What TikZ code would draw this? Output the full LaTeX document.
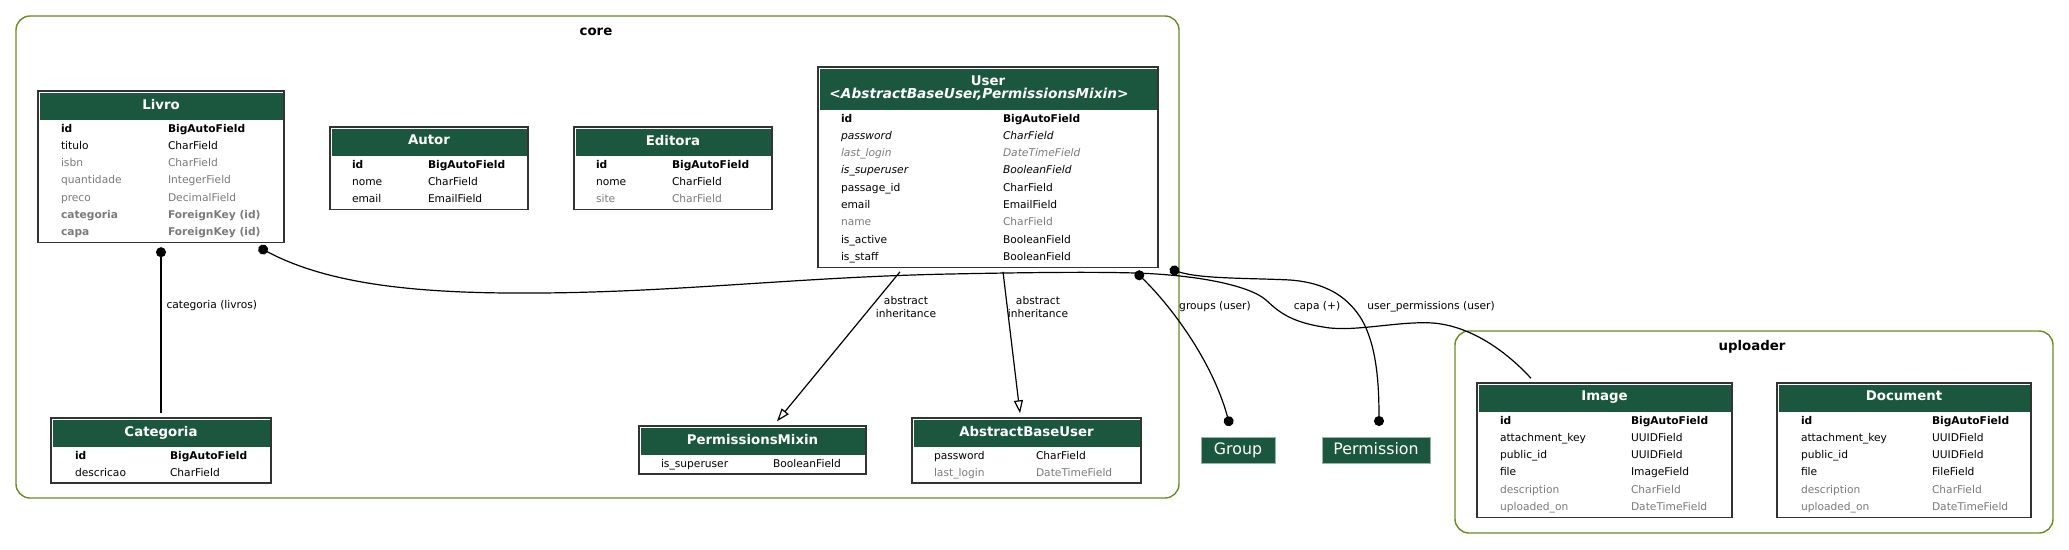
\documentclass[tikz,border=0pt]{standalone}
\usepackage{fontspec}
\setmainfont{DejaVu Sans}
\usetikzlibrary{arrows.meta}
\usetikzlibrary{positioning}
\usetikzlibrary{fit}

\definecolor{hdrgreen}{HTML}{1B563F}
\definecolor{clusterline}{HTML}{698B22}
\definecolor{fieldgray}{HTML}{7B7B7B}

\setlength{\tabcolsep}{0pt}
\newcommand{\fgray}[1]{\textcolor{fieldgray}{#1}}

\tikzset{
  hdr/.style={fill=hdrgreen, text=white, inner sep=0pt, minimum height=27pt,
    text depth=4pt, font=\bfseries\fontsize{13.33}{14}\selectfont},
  fields/.style={anchor=north west, inner sep=0pt,
    font=\fontsize{10.67}{17.3}\selectfont},
  tblframe/.style={draw=black!80, line width=1.5pt, inner sep=1.5pt, outer sep=4.5pt},
  cluster/.style={draw=clusterline, line width=1.4pt, rounded corners=14pt},
  ext/.style={fill=hdrgreen, draw=hdrgreen!45, text=white, line width=1pt,
    minimum height=26pt, inner sep=0pt, outer sep=11pt, text depth=3pt,
    font=\fontsize{15.8}{16}\selectfont},
  rel/.style={line width=1.2pt},
  fkdot/.style={arrows={Circle[length=10pt]-}},
  fkdots/.style={arrows={Circle[length=10pt]-Circle[length=10pt]}},
  absinh/.style={arrows={-Triangle[open, length=13pt, width=9pt]}},
  lbl/.style={font=\fontsize{10.67}{13}\selectfont, align=center},
  clbl/.style={font=\bfseries\fontsize{13.33}{14}\selectfont},
}

\begin{document}
\begin{tikzpicture}[x=1pt, y=-1pt]

\useasboundingbox (0,0) rectangle (2069,549);
\fill[white] (0,0) rectangle (2069,549);

% clusters
\draw[cluster] (16,16) rectangle (1179,498);
\node[clbl] (CoreLbl) at (596,32) {core};
\draw[cluster] (1455,331) rectangle (2053,533);
\node[clbl] (UploaderLbl) at (1752,347) {uploader};

% core models
\node[hdr, minimum width=243pt] (LivroH) at (161,106) {Livro};
\node[fields] (LivroF) at ([xshift=21.5pt]LivroH.south west) {%
  \begin{tabular}{@{}p{107pt}l@{}}
  \textbf{id} & \textbf{BigAutoField}\\
  titulo & CharField\\
  \fgray{isbn} & \fgray{CharField}\\
  \fgray{quantidade} & \fgray{IntegerField}\\
  \fgray{preco} & \fgray{DecimalField}\\
  \fgray{\textbf{categoria}} & \fgray{\textbf{ForeignKey (id)}}\\
  \fgray{\textbf{capa}} & \fgray{\textbf{ForeignKey (id)}}
  \end{tabular}};
\node[tblframe, fit=(LivroH)(LivroF)] (Livro) {};

\node[hdr, minimum width=195pt] (AutorH) at (429,142) {Autor};
\node[fields] (AutorF) at ([xshift=20.5pt]AutorH.south west) {%
  \begin{tabular}{@{}p{76pt}l@{}}
  \textbf{id} & \textbf{BigAutoField}\\
  nome & CharField\\
  email & EmailField
  \end{tabular}};
\node[tblframe, fit=(AutorH)(AutorF)] (Autor) {};

\node[hdr, minimum width=195pt] (EditoraH) at (673,142) {Editora};
\node[fields] (EditoraF) at ([xshift=20.5pt]EditoraH.south west) {%
  \begin{tabular}{@{}p{76pt}l@{}}
  \textbf{id} & \textbf{BigAutoField}\\
  nome & CharField\\
  \fgray{site} & \fgray{CharField}
  \end{tabular}};
\node[tblframe, fit=(EditoraH)(EditoraF)] (Editora) {};

\node[hdr, minimum width=337pt, minimum height=41pt, align=center,
  font=\bfseries\fontsize{13.33}{13.5}\selectfont] (UserH) at (988,89)
  {User\\[-1pt]\hspace*{-18pt}{\fontsize{13.7}{13.5}\selectfont\textit{<AbstractBaseUser,PermissionsMixin>}}};
\node[fields] (UserF) at ([xshift=21.5pt]UserH.south west) {%
  \begin{tabular}{@{}p{162pt}l@{}}
  \textbf{id} & \textbf{BigAutoField}\\
  \textit{password} & \textit{CharField}\\
  \fgray{\textit{last\_login}} & \fgray{\textit{DateTimeField}}\\
  \textit{is\_superuser} & \textit{BooleanField}\\
  passage\_id & CharField\\
  email & EmailField\\
  \fgray{name} & \fgray{CharField}\\
  is\_active & BooleanField\\
  is\_staff & BooleanField
  \end{tabular}};
\node[tblframe, fit=(UserH)(UserF)] (User) {};

\node[hdr, minimum width=217pt] (CategoriaH) at (161,433) {Categoria};
\node[fields] (CategoriaF) at ([xshift=22.5pt]CategoriaH.south west) {%
  \begin{tabular}{@{}p{95pt}l@{}}
  \textbf{id} & \textbf{BigAutoField}\\
  descricao & CharField
  \end{tabular}};
\node[tblframe, fit=(CategoriaH)(CategoriaF)] (Categoria) {};

\node[hdr, minimum width=224pt] (PermMixinH) at (752.5,441) {PermissionsMixin};
\node[fields] (PermMixinF) at ([xshift=20.5pt]PermMixinH.south west) {%
  \begin{tabular}{@{}p{112pt}l@{}}
  is\_superuser & BooleanField
  \end{tabular}};
\node[tblframe, fit=(PermMixinH)(PermMixinF)] (PermMixin) {};

\node[hdr, minimum width=226pt] (AbsUserH) at (1026.5,433) {AbstractBaseUser};
\node[fields] (AbsUserF) at ([xshift=20.5pt]AbsUserH.south west) {%
  \begin{tabular}{@{}p{102pt}l@{}}
  password & CharField\\
  \fgray{last\_login} & \fgray{DateTimeField}
  \end{tabular}};
\node[tblframe, fit=(AbsUserH)(AbsUserF)] (AbsUser) {};

% auth models outside the clusters
\node[ext, minimum width=74pt] (Group) at (1238,450) {Group};
\node[ext, minimum width=108pt] (Permission) at (1376,450) {Permission};

% uploader models
\node[hdr, minimum width=252pt] (ImageH) at (1604.5,398) {Image};
\node[fields] (ImageF) at ([xshift=21.5pt]ImageH.south west) {%
  \begin{tabular}{@{}p{131pt}l@{}}
  \textbf{id} & \textbf{BigAutoField}\\
  attachment\_key & UUIDField\\
  public\_id & UUIDField\\
  file & ImageField\\
  \fgray{description} & \fgray{CharField}\\
  \fgray{uploaded\_on} & \fgray{DateTimeField}
  \end{tabular}};
\node[tblframe, fit=(ImageH)(ImageF)] (Image) {};

\node[hdr, minimum width=251pt] (DocumentH) at (1904,398) {Document};
\node[fields] (DocumentF) at ([xshift=22.5pt]DocumentH.south west) {%
  \begin{tabular}{@{}p{131pt}l@{}}
  \textbf{id} & \textbf{BigAutoField}\\
  attachment\_key & UUIDField\\
  public\_id & UUIDField\\
  file & FileField\\
  \fgray{description} & \fgray{CharField}\\
  \fgray{uploaded\_on} & \fgray{DateTimeField}
  \end{tabular}};
\node[tblframe, fit=(DocumentH)(DocumentF)] (Document) {};

% relations
\draw[rel, fkdot] (Livro.south) -- (Categoria.north);
\node[lbl, anchor=west] (LblCat) at (163,306) {categoria (livros)};

\draw[rel, absinh] ([xshift=-88pt]User.south) -- ([xshift=24.5pt]PermMixin.north);
\node[lbl] (LblAbs1) at (906,307) {abstract\\inheritance};
\draw[rel, absinh] ([xshift=15pt]User.south) -- ([xshift=-6.5pt]AbsUser.north);
\node[lbl] (LblAbs2) at (1038,307) {abstract\\inheritance};

\draw[rel, fkdot] ([xshift=-30pt]Livro.south east)
  .. controls (330,285) and (420,294) .. (540,293)
  .. controls (680,292) and (800,277) .. (950,274)
  .. controls (1050,272) and (1100,272) .. (1135,273)
  .. controls (1200,275) and (1250,286) .. (1266,300)
  .. controls (1280,313) and (1292,323) .. (1330,328)
  .. controls (1360,331) and (1400,321) .. (1433,323)
  .. controls (1470,326) and (1505,350) .. ([xshift=-73.5pt]Image.north);
\node[lbl] (LblCapa) at (1317,307) {capa (+)};

\draw[rel, fkdots] ([xshift=-27pt]User.south east)
  .. controls (1170,305) and (1212,360) .. ([xshift=-8pt]Group.north);
\node[lbl] (LblGrp) at (1215,307) {groups (user)};

\draw[rel, fkdots] ([shift={(7pt,3pt)}]User.south east)
  .. controls (1200,279) and (1250,278) .. (1290,280)
  .. controls (1330,283) and (1350,300) .. (1362,320)
  .. controls (1376,345) and (1379,380) .. ([xshift=3pt]Permission.north);
\node[lbl] (LblPerm) at (1431,307) {user\_permissions (user)};

\end{tikzpicture}
\end{document}
